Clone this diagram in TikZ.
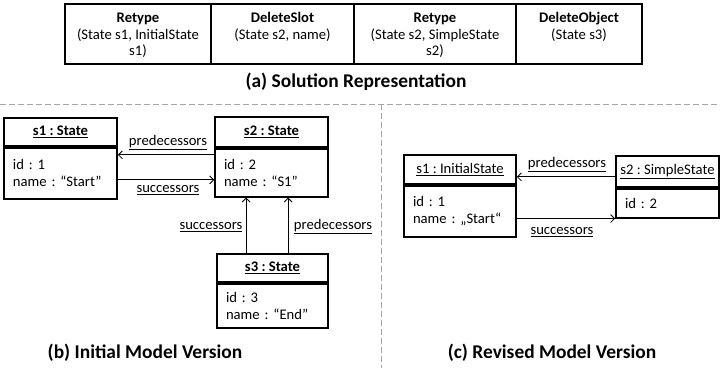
\documentclass[tikz,border=0pt]{standalone}
\usepackage{fontspec}
\setmainfont{Carlito}
\frenchspacing
\usetikzlibrary{positioning, arrows.meta}

\tikzset{
  txt/.style={font=\fontsize{14.7}{17}\selectfont},
  cell/.style={draw, line width=1.2bp, minimum height=60bp, inner sep=0pt},
  celltext/.style={txt, align=center, anchor=north, inner sep=0pt},
  objhead/.style={txt, draw, line width=1.7bp, inner sep=0pt},
  objbody/.style={txt, draw, line width=1.7bp, inner xsep=9bp, inner ysep=0pt, align=left, anchor=north},
  assoc/.style={-{Straight Barb[length=4bp,width=8bp]}, line width=0.8bp},
  role/.style={txt, inner sep=1bp},
  caption/.style={font=\fontsize{19.5}{23}\selectfont\bfseries},
  sepline/.style={gray!70, line width=1bp, dash pattern=on 6bp off 3bp}
}

\begin{document}
\begin{tikzpicture}[x=1bp,y=1bp]
\useasboundingbox (0,0) rectangle (720,368);

\node[cell,minimum width=146bp] (c1) at (138,334) {};
\node[cell,minimum width=143bp] (c2) at (282.5,334) {};
\node[cell,minimum width=162bp] (c3) at (435,334) {};
\node[cell,minimum width=126bp] (c4) at (579,334) {};
\node[celltext] (t1) at ([yshift=-9bp]c1.north) {\textbf{Retype}\\(State s1, InitialState\\s1)};
\node[celltext] (t2) at ([yshift=-9bp]c2.north) {\textbf{DeleteSlot}\\(State s2, name)};
\node[celltext] (t3) at ([yshift=-9bp]c3.north) {\textbf{Retype}\\(State s2, SimpleState\\s2)};
\node[celltext] (t4) at ([yshift=-9bp]c4.north) {\textbf{DeleteObject}\\(State s3)};
\node[caption] (capa) at (356,286) {(a) Solution Representation};

\draw[sepline] (0,264) coordinate (hl) -- (720,264) coordinate (hr);
\draw[sepline] (381,264) coordinate (vt) -- (381,0) coordinate (vb);

\node[objhead,minimum width=113bp,minimum height=28bp] (s1h) at (60.5,236) {\textbf{\underline{s1 : State}}};
\node[objbody,text width=95bp,minimum height=51bp] (s1b) at (s1h.south) {id : 1\\name : “Start”};
\node[objhead,minimum width=113bp,minimum height=30bp] (s2h) at (271.5,236) {\textbf{\underline{s2 : State}}};
\node[objbody,text width=95bp,minimum height=48bp] (s2b) at (s2h.south) {id : 2\\name : “S1”};
\node[objhead,minimum width=111bp,minimum height=28bp] (s3h) at (272.5,100) {\textbf{\underline{s3 : State}}};
\node[objbody,text width=93bp,minimum height=44bp] (s3b) at (s3h.south) {id : 3\\name : “End”};

\draw[assoc] ([yshift=-7bp]s2b.north west) -- ([yshift=-7bp]s2b.north west -| s1b.east);
\draw[assoc] ([yshift=-33bp]s1b.north east) -- ([yshift=-33bp]s1b.north east -| s2b.west);
\draw[assoc] ([xshift=30bp]s3h.north west) -- ([xshift=30bp]s3h.north west |- s2b.south);
\draw[assoc] ([xshift=72bp]s3h.north west) -- ([xshift=72bp]s3h.north west |- s2b.south);
\node[role] (bp1) at (168,225) {\underline{predecessors}};
\node[role] (bs1) at (168,178) {\underline{successors}};
\node[role] (bs2) at (211,141) {\underline{successors}};
\node[role] (bp2) at (333,141) {\underline{predecessors}};
\node[caption] (capb) at (145,15) {(b) Initial Model Version};

\node[objhead,minimum width=112bp,minimum height=29bp] (r1h) at (460,198.5) {\underline{s1 : InitialState}};
\node[objbody,text width=94bp,minimum height=51bp] (r1b) at (r1h.south) {id : 1\\name : „Start“};
\node[objhead,minimum width=103bp,minimum height=31bp] (r2h) at (667.5,196.5) {\underline{s2 : SimpleState}};
\node[objbody,text width=85bp,minimum height=29bp] (r2b) at (r2h.south) {id : 2};

\draw[assoc] ([yshift=11bp]r2h.south west) -- ([yshift=11bp]r2h.south west -| r1b.east);
\draw[assoc] (r1b.east |- r2b.south west) -- (r2b.south west);
\node[role] (rp1) at (567,203) {\underline{predecessors}};
\node[role] (rs1) at (562,136) {\underline{successors}};
\node[caption] (capc) at (552,15) {(c) Revised Model Version};
\end{tikzpicture}
\end{document}
